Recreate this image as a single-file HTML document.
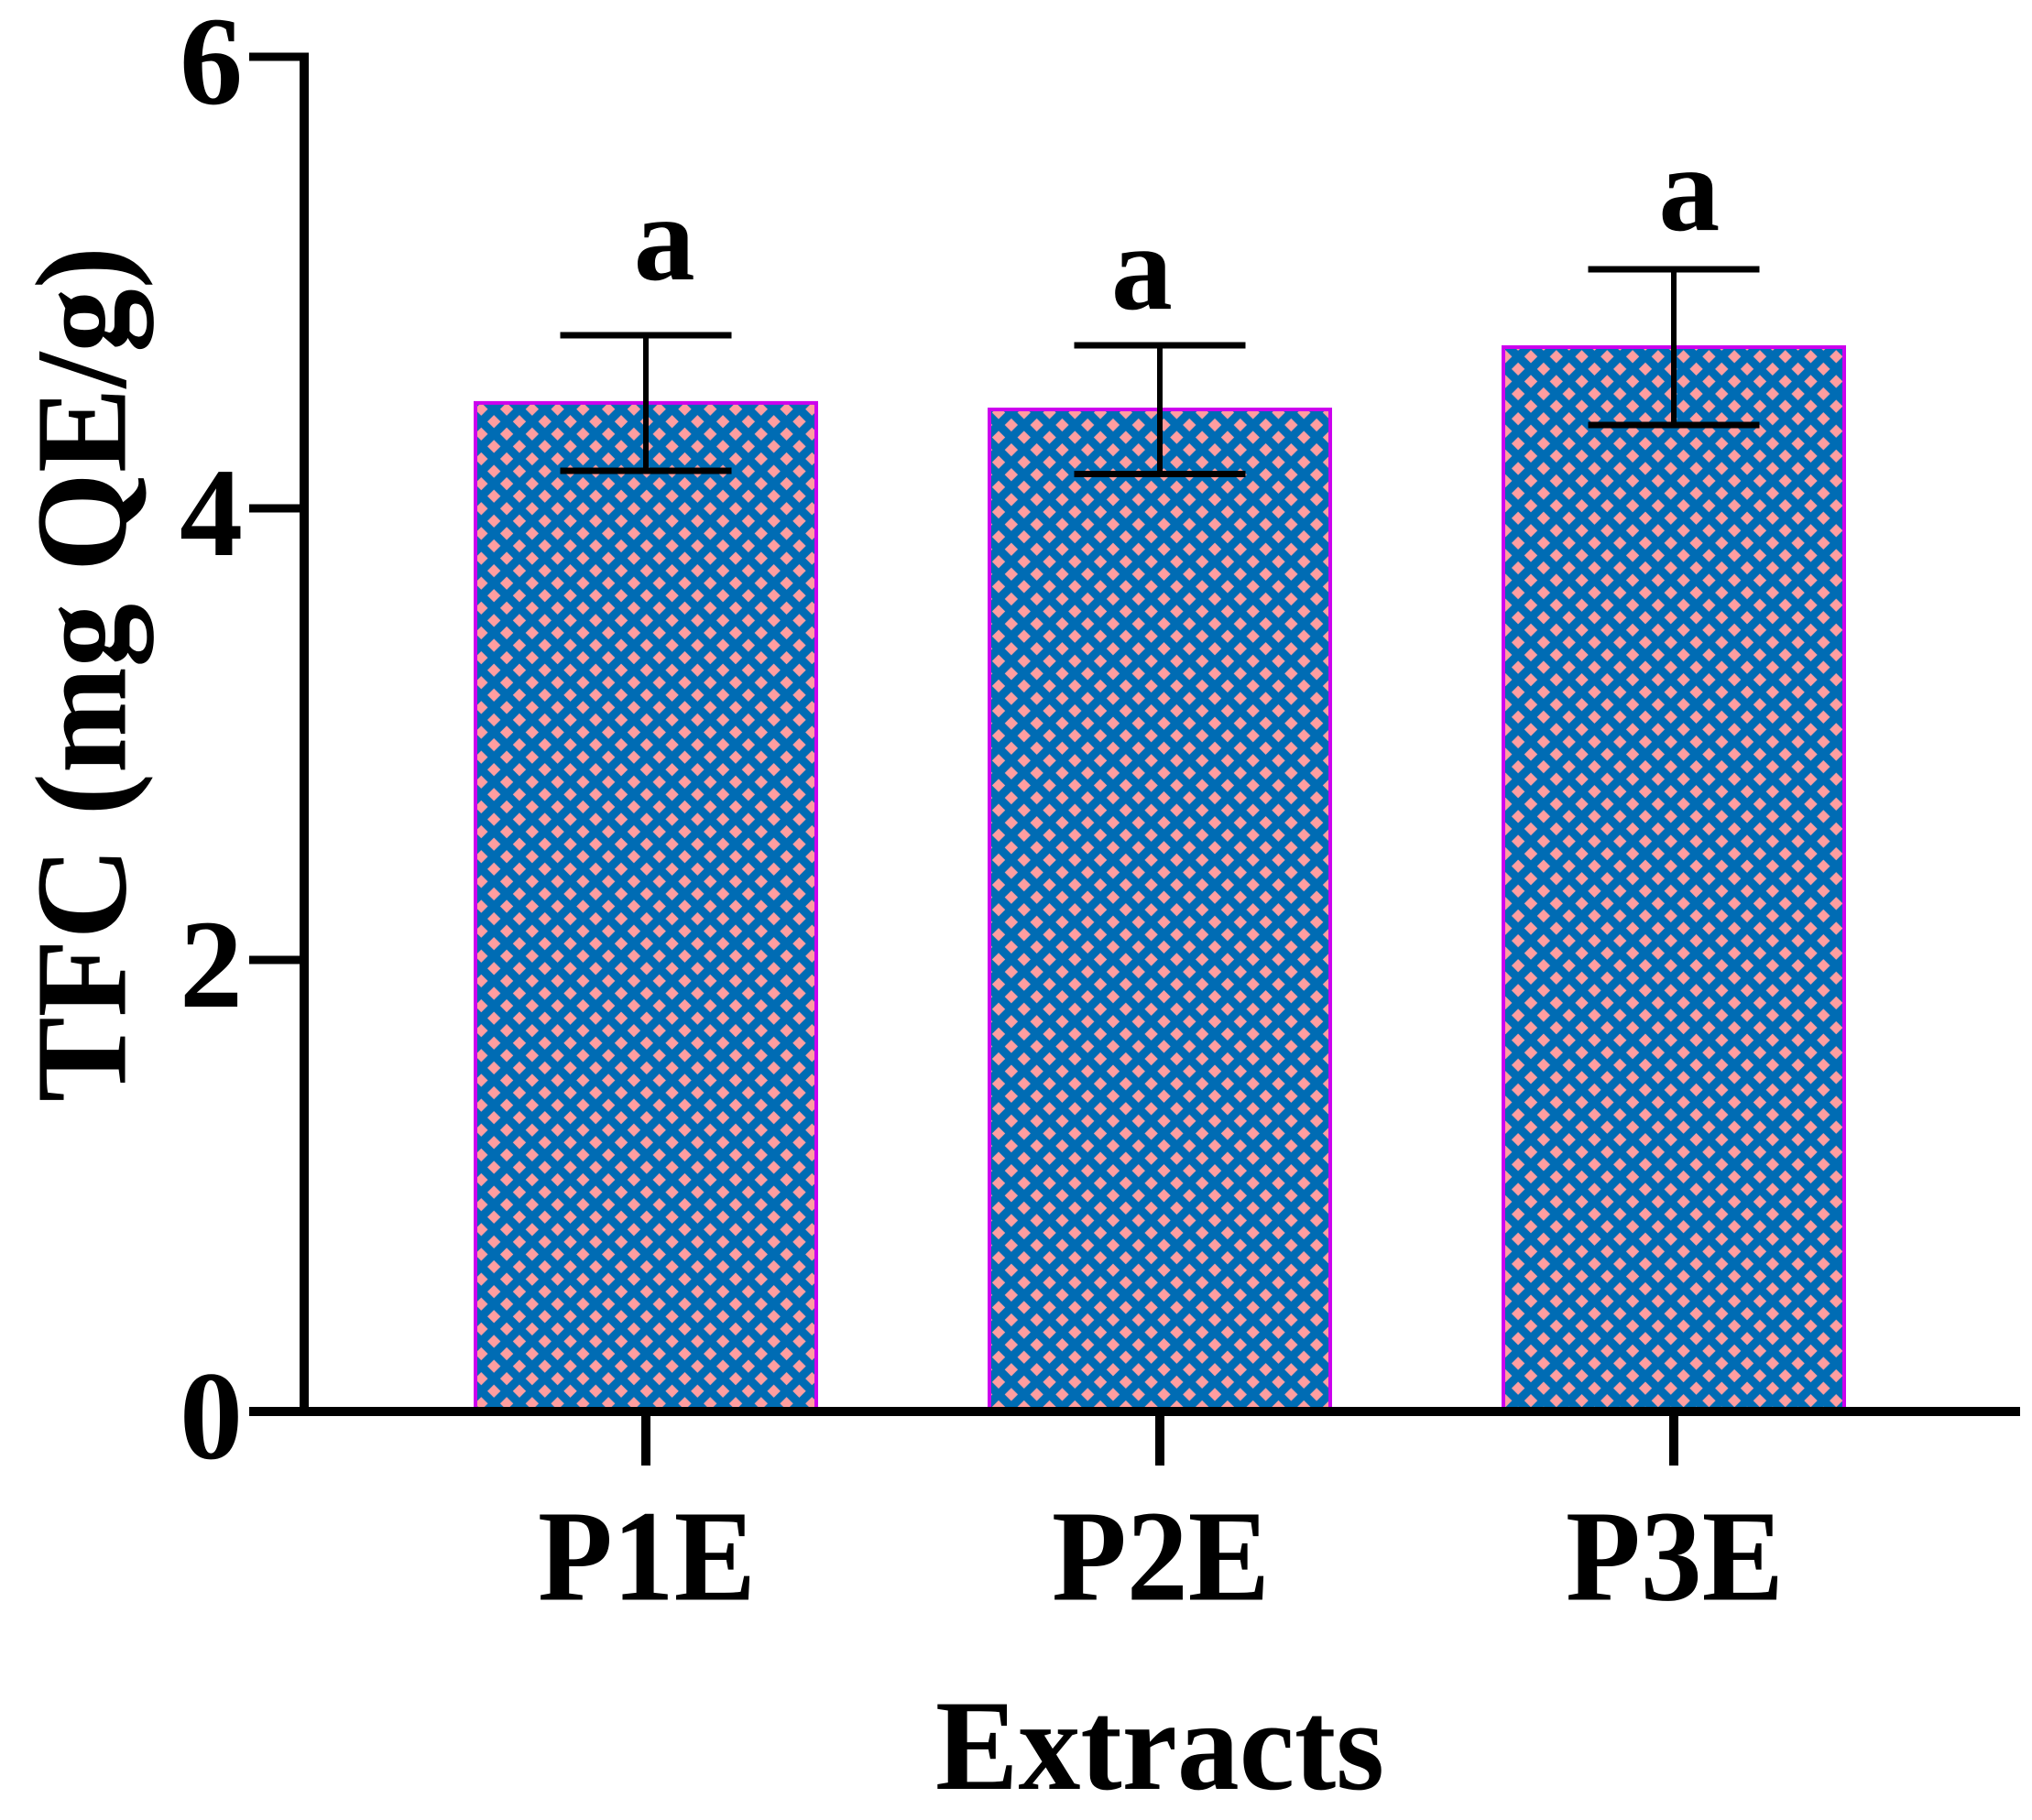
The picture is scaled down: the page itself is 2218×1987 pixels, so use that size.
<!DOCTYPE html>
<html lang="en">
<head>
<meta charset="utf-8">
<title>TFC of extracts</title>
<style>
  html, body { margin: 0; padding: 0; background: #ffffff; }
  svg { display: block; }
  text { font-family: "Liberation Serif", serif; font-weight: bold; fill: #000000; }
</style>
</head>
<body>
<svg id="chart" xmlns="http://www.w3.org/2000/svg" width="2218" height="1987" viewBox="0 0 2218 1987">
  <defs id="defs"></defs>
  <rect x="0" y="0" width="2218" height="1987" fill="#ffffff"></rect>
  <g id="bars"></g>
  <g id="errors"></g>
  <g id="annotations"></g>
  <g id="axes"></g>
  <text x="1266" y="1953" font-size="141" text-anchor="middle" textLength="490" lengthAdjust="spacingAndGlyphs">Extracts</text>
  <text transform="translate(136.5 736) rotate(-90)" x="0" y="0" font-size="142" text-anchor="middle" textLength="934" lengthAdjust="spacingAndGlyphs">TFC (mg QE/g)</text>
</svg>
<script>
const categories = ["P1E", "P2E", "P3E"];
const tfcValues = [4.467, 4.438, 4.714];
const tfcErrors = [0.30, 0.285, 0.345];
const yTickValues = [0, 2, 4, 6];
const yTickLabels = ["0", "2", "4", "6"];
const letters = ["a", "a", "a"];
const letterHeights = [5.014, 4.884, 5.233];
const letterShifts = [0.036, -0.035, 0.03];

const NS = "http://www.w3.org/2000/svg";
const Y_ZERO = 1541;
const Y_UNIT = 246.5;
const X_FIRST = 705;
const X_STEP = 561;
const BAR_WIDTH = 372;
const CAP_WIDTH = 187;
const patternAnchors = [[525.3, 446.7], [1090, 450.4], [1671, 389.3]];
const TILE_W = 27.77;
const TILE_H = 27.14;
const DIAMOND = 7.2;

function yScale(v) { return Y_ZERO - v * Y_UNIT; }
function xScale(i) { return X_FIRST + X_STEP * i; }

function mk(tag, attrs, parent) {
  const el = document.createElementNS(NS, tag);
  for (const k in attrs) el.setAttribute(k, attrs[k]);
  parent.appendChild(el);
  return el;
}

function diamondPoints(cx, cy) {
  return (cx - DIAMOND) + "," + cy + " " + cx + "," + (cy - DIAMOND) + " " + (cx + DIAMOND) + "," + cy + " " + cx + "," + (cy + DIAMOND);
}

const defs = document.getElementById("defs");
const barsG = document.getElementById("bars");
const errG = document.getElementById("errors");
const annG = document.getElementById("annotations");
const axG = document.getElementById("axes");

categories.forEach(function (cat, i) {
  const pat = mk("pattern", {
    id: "hatch" + i, patternUnits: "userSpaceOnUse",
    x: patternAnchors[i][0], y: patternAnchors[i][1], width: TILE_W, height: TILE_H
  }, defs);
  mk("rect", { x: 0, y: 0, width: TILE_W, height: TILE_H, fill: "#006cb4" }, pat);
  [[0, 0], [TILE_W, 0], [0, TILE_H], [TILE_W, TILE_H], [TILE_W / 2, TILE_H / 2]].forEach(function (c) {
    mk("polygon", { points: diamondPoints(c[0], c[1]), fill: "#ff9ea0" }, pat);
  });

  const top = yScale(tfcValues[i]);
  const cx = xScale(i);
  const bar = mk("rect", {
    x: cx - BAR_WIDTH / 2, y: top, width: BAR_WIDTH, height: yScale(0) - top,
    fill: "url(#hatch" + i + ")", stroke: "#cc00ee", "stroke-width": 4
  }, barsG);
  
  

  const hi = yScale(tfcValues[i] + tfcErrors[i]);
  const lo = yScale(tfcValues[i] - tfcErrors[i]);
  const stem = mk("line", { x1: cx, x2: cx, y1: hi, y2: lo, stroke: "#000", "stroke-width": 6, "shape-rendering": "crispEdges" }, errG);
  
  
  const capHi = mk("line", { x1: cx - CAP_WIDTH / 2, x2: cx + CAP_WIDTH / 2, y1: hi, y2: hi, stroke: "#000", "stroke-width": 7, "shape-rendering": "crispEdges" }, errG);
  
  
  const capLo = mk("line", { x1: cx - CAP_WIDTH / 2, x2: cx + CAP_WIDTH / 2, y1: lo, y2: lo, stroke: "#000", "stroke-width": 7, "shape-rendering": "crispEdges" }, errG);
  
  

  const letter = mk("text", { x: xScale(i + letterShifts[i]), y: yScale(letterHeights[i]), "font-size": 134, "text-anchor": "middle" }, annG);
  letter.textContent = letters[i];
  
  

  const tick = mk("line", { x1: cx, x2: cx, y1: Y_ZERO, y2: 1600, stroke: "#000", "stroke-width": 10, "shape-rendering": "crispEdges" }, axG);
  
  

  const label = mk("text", { x: cx + 1, y: 1746.5, "font-size": 142, "text-anchor": "middle", textLength: 238, lengthAdjust: "spacingAndGlyphs" }, axG);
  label.textContent = cat;
  
  
});

yTickValues.forEach(function (v, i) {
  const y = yScale(v);
  const tick = mk("line", { x1: 272, x2: 332, y1: y, y2: y, stroke: "#000", "stroke-width": 9, "shape-rendering": "crispEdges" }, axG);
  
  
  const label = mk("text", { x: 265, y: y + 51, "font-size": 138, "text-anchor": "end" }, axG);
  label.textContent = yTickLabels[i];
  
  
});

const yAxis = mk("line", { x1: 332, x2: 332, y1: yScale(6) - 4.5, y2: Y_ZERO + 5, stroke: "#000", "stroke-width": 10, "shape-rendering": "crispEdges" }, axG);


const xAxis = mk("line", { x1: 272, x2: 2205, y1: Y_ZERO, y2: Y_ZERO, stroke: "#000", "stroke-width": 10, "shape-rendering": "crispEdges" }, axG);


</script>
</body>
</html>
